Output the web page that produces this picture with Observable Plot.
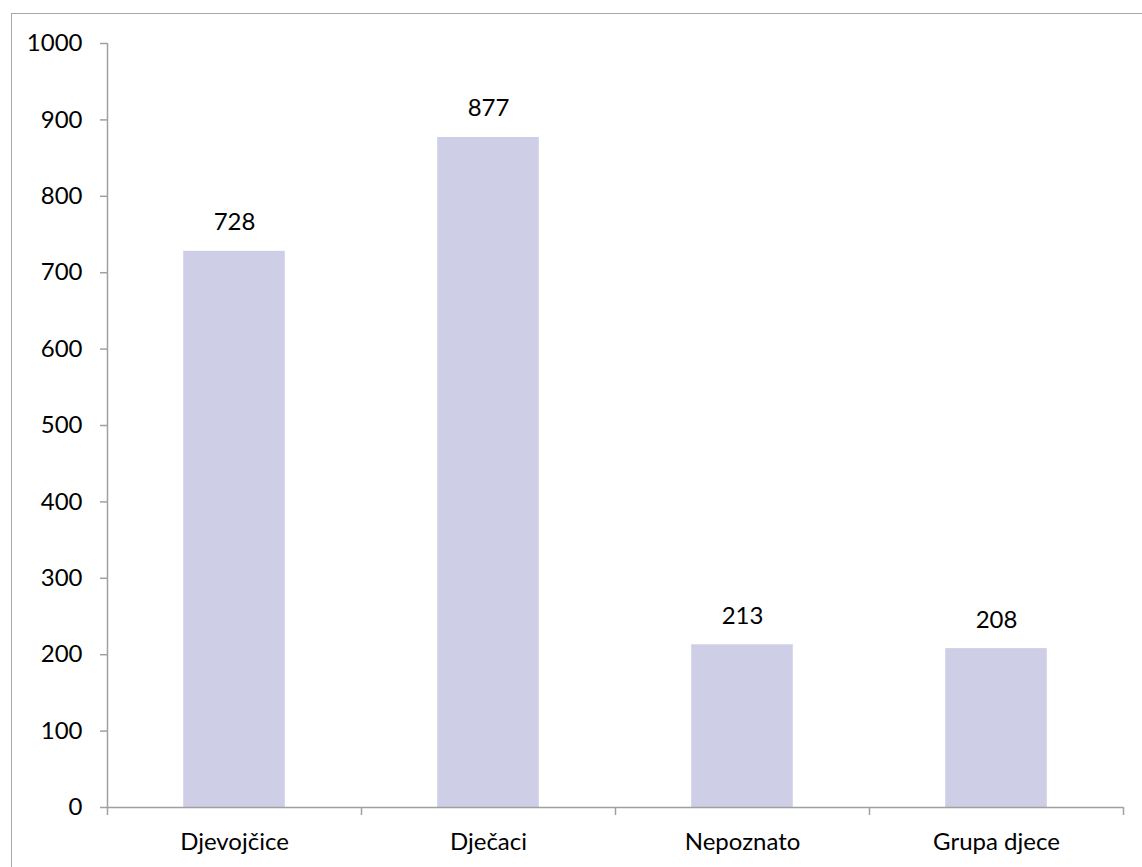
<!DOCTYPE html>
<html>
<head>
<meta charset="utf-8">
<script src="https://cdn.jsdelivr.net/npm/d3@7"></script>
<script src="https://cdn.jsdelivr.net/npm/@observablehq/plot@0.6"></script>
<style>
  html, body { margin: 0; padding: 0; background: #fff; overflow: hidden; }
  #wrap { position: relative; width: 1142px; height: 867px; overflow: hidden; }
  #border { position: absolute; left: 11px; top: 13px; width: 1300px; height: 1000px; border: 1.5px solid #a9a9a9; box-sizing: border-box; }
  #chart { position: absolute; left: 0; top: 0; }
</style>
</head>
<body>
<div id="wrap"><div id="border"></div><div id="chart"></div></div>
<script>
const categories = ["Djevojčice", "Dječaci", "Nepoznato", "Grupa djece"];
const values = [728, 877, 213, 208];
const yTicks = [0, 100, 200, 300, 400, 500, 600, 700, 800, 900, 1000];

const data = categories.map((c, i) => ({i, category: c, value: values[i]}));
const boundaries = d3.range(-0.5, categories.length, 1);

const font = "Lato, 'Open Sans', sans-serif";
const axisColor = "#a0a0a0";

const chart = Plot.plot({
  width: 1142,
  height: 867,
  marginLeft: 107,
  marginRight: 19,
  marginTop: 43,
  marginBottom: 60,
  style: {fontFamily: font, fontSize: "24px", color: "#000", background: "transparent"},
  x: {domain: [-0.5, categories.length - 0.5], axis: null},
  y: {domain: [0, 1000], axis: null},
  marks: [
    Plot.rectY(data, {x1: d => d.i - 0.2, x2: d => d.i + 0.2, y: "value", fill: "#cfcee7"}),
    Plot.ruleY([0], {stroke: axisColor, strokeWidth: 1.5}),
    Plot.ruleX([-0.5], {stroke: axisColor, strokeWidth: 1.5}),
    Plot.axisY({ticks: yTicks, tickSize: 7, tickPadding: 18, stroke: axisColor, strokeWidth: 1.5, fill: "#000", tickFormat: d => String(d), label: null}),
    Plot.axisX({ticks: boundaries, tickSize: 8, stroke: axisColor, strokeWidth: 1.5, tickFormat: () => "", label: null}),
    Plot.axisX({ticks: data.map(d => d.i), tickSize: 0, tickPadding: 25, fill: "#000", tickFormat: i => categories[i], label: null}),
    Plot.text(data, {x: "i", y: "value", text: d => String(d.value), dy: -21, lineAnchor: "bottom", fill: "#000", fontSize: 24})
  ]
});
document.getElementById("chart").appendChild(chart);
</script>
</body>
</html>
